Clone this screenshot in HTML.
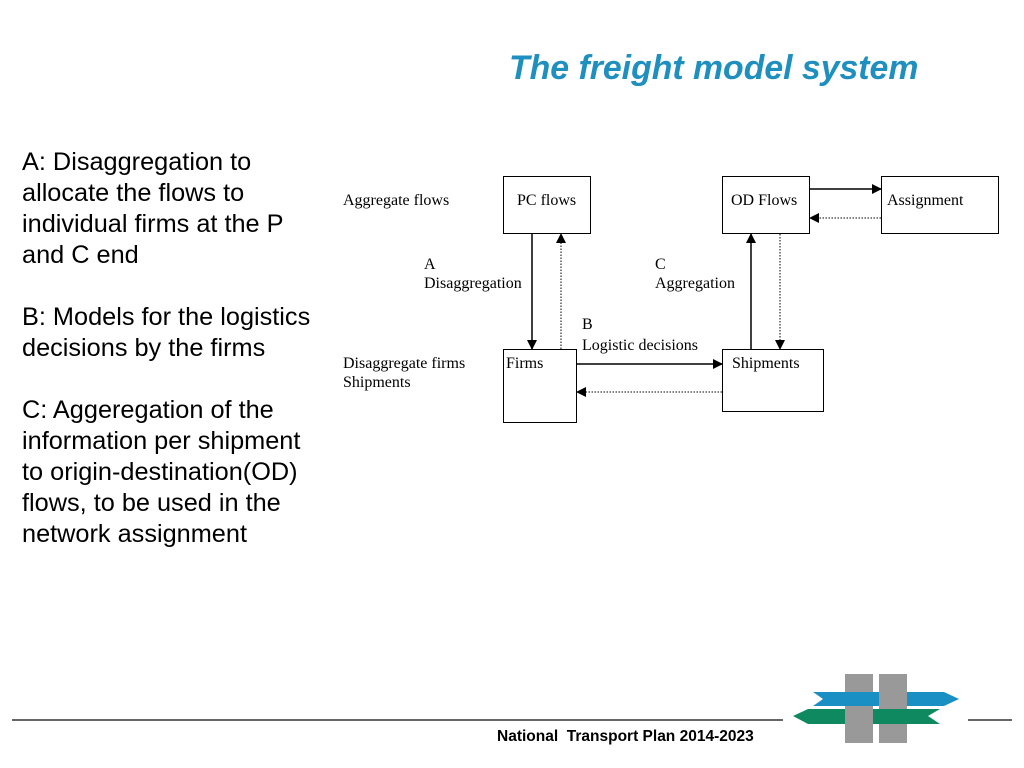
<!DOCTYPE html>
<html><head><meta charset="utf-8"><style>
body{margin:0;width:1024px;height:768px;background:#fff;position:relative;overflow:hidden;font-family:"Liberation Sans",sans-serif}
.t{position:absolute;white-space:nowrap}
.s{font-family:"Liberation Serif",serif;font-size:16px;color:#000;position:absolute;white-space:nowrap;line-height:19px}
.b{position:absolute;border:1px solid #000;box-sizing:border-box}
</style></head><body>
<div class="t" style="left:509px;top:49px;font-size:33.8px;font-weight:bold;font-style:italic;color:#1f8fbf">The freight model system</div>
<div class="t" style="left:22px;top:147px;font-size:25.3px;line-height:31px;color:#000">A: Disaggregation to<br>allocate the flows to<br>individual firms at the P<br>and C end<br><br>B: Models for the logistics<br>decisions by the firms<br><br>C: Aggeregation of the<br>information per shipment<br>to origin-destination(OD)<br>flows, to be used in the<br>network assignment</div>

<div class="b" style="left:503px;top:176px;width:88px;height:58px"></div>
<div class="b" style="left:722px;top:176px;width:88px;height:58px"></div>
<div class="b" style="left:881px;top:176px;width:118px;height:58px"></div>
<div class="b" style="left:503px;top:349px;width:74px;height:74px"></div>
<div class="b" style="left:722px;top:349px;width:102px;height:63px"></div>

<div class="s" style="left:343px;top:191px">Aggregate flows</div>
<div class="s" style="left:517px;top:191px">PC flows</div>
<div class="s" style="left:731px;top:191px">OD Flows</div>
<div class="s" style="left:887px;top:191px">Assignment</div>
<div class="s" style="left:424px;top:255px">A<br>Disaggregation</div>
<div class="s" style="left:655px;top:255px">C<br>Aggregation</div>
<div class="s" style="left:582px;top:314px;line-height:21px">B<br>Logistic decisions</div>
<div class="s" style="left:343px;top:354px">Disaggregate firms<br>Shipments</div>
<div class="s" style="left:506px;top:354px">Firms</div>
<div class="s" style="left:732px;top:354px">Shipments</div>

<svg width="1024" height="768" style="position:absolute;left:0;top:0">
<defs><marker id="a" markerWidth="10" markerHeight="10" refX="9" refY="5" orient="auto" markerUnits="userSpaceOnUse"><path d="M0,0L10,5L0,10z" fill="#000"/></marker></defs>
<g stroke="#000" fill="none">
<line x1="532" y1="234" x2="532" y2="349" stroke-width="1.5" marker-end="url(#a)"/>
<line x1="561" y1="349" x2="561" y2="234" stroke-dasharray="1.5,1.5" marker-end="url(#a)"/>
<line x1="751" y1="349" x2="751" y2="234" stroke-width="1.5" marker-end="url(#a)"/>
<line x1="780" y1="234" x2="780" y2="349" stroke-dasharray="1.5,1.5" marker-end="url(#a)"/>
<line x1="577" y1="364" x2="722" y2="364" stroke-width="1.5" marker-end="url(#a)"/>
<line x1="722" y1="392" x2="577" y2="392" stroke-dasharray="1.5,1.5" marker-end="url(#a)"/>
<line x1="810" y1="189" x2="881" y2="189" stroke-width="1.5" marker-end="url(#a)"/>
<line x1="881" y1="218" x2="810" y2="218" stroke-dasharray="1.5,1.5" marker-end="url(#a)"/>
<line x1="12" y1="720" x2="783" y2="720" stroke="#333" stroke-width="1.5"/>
<line x1="968" y1="720" x2="1012" y2="720" stroke="#333" stroke-width="1.5"/>
</g>
<rect x="845" y="674" width="28" height="69" fill="#999"/>
<path d="M793,716L808,709H940L928,716L940,724H808Z" fill="#0f8a60"/>
<rect x="845" y="674" width="28" height="69" fill="#999"/>
<path d="M813,692H944L959,699L944,706H813L823,699Z" fill="#1a8fc4"/>
<rect x="879" y="674" width="28" height="69" fill="#999"/>
<rect x="873" y="709" width="34" height="15" fill="#0f8a60"/>
</svg>
<div class="t" style="left:497px;top:728px;font-size:15.5px;font-weight:bold;color:#000">National&nbsp; Transport Plan 2014-2023</div>
</body></html>
